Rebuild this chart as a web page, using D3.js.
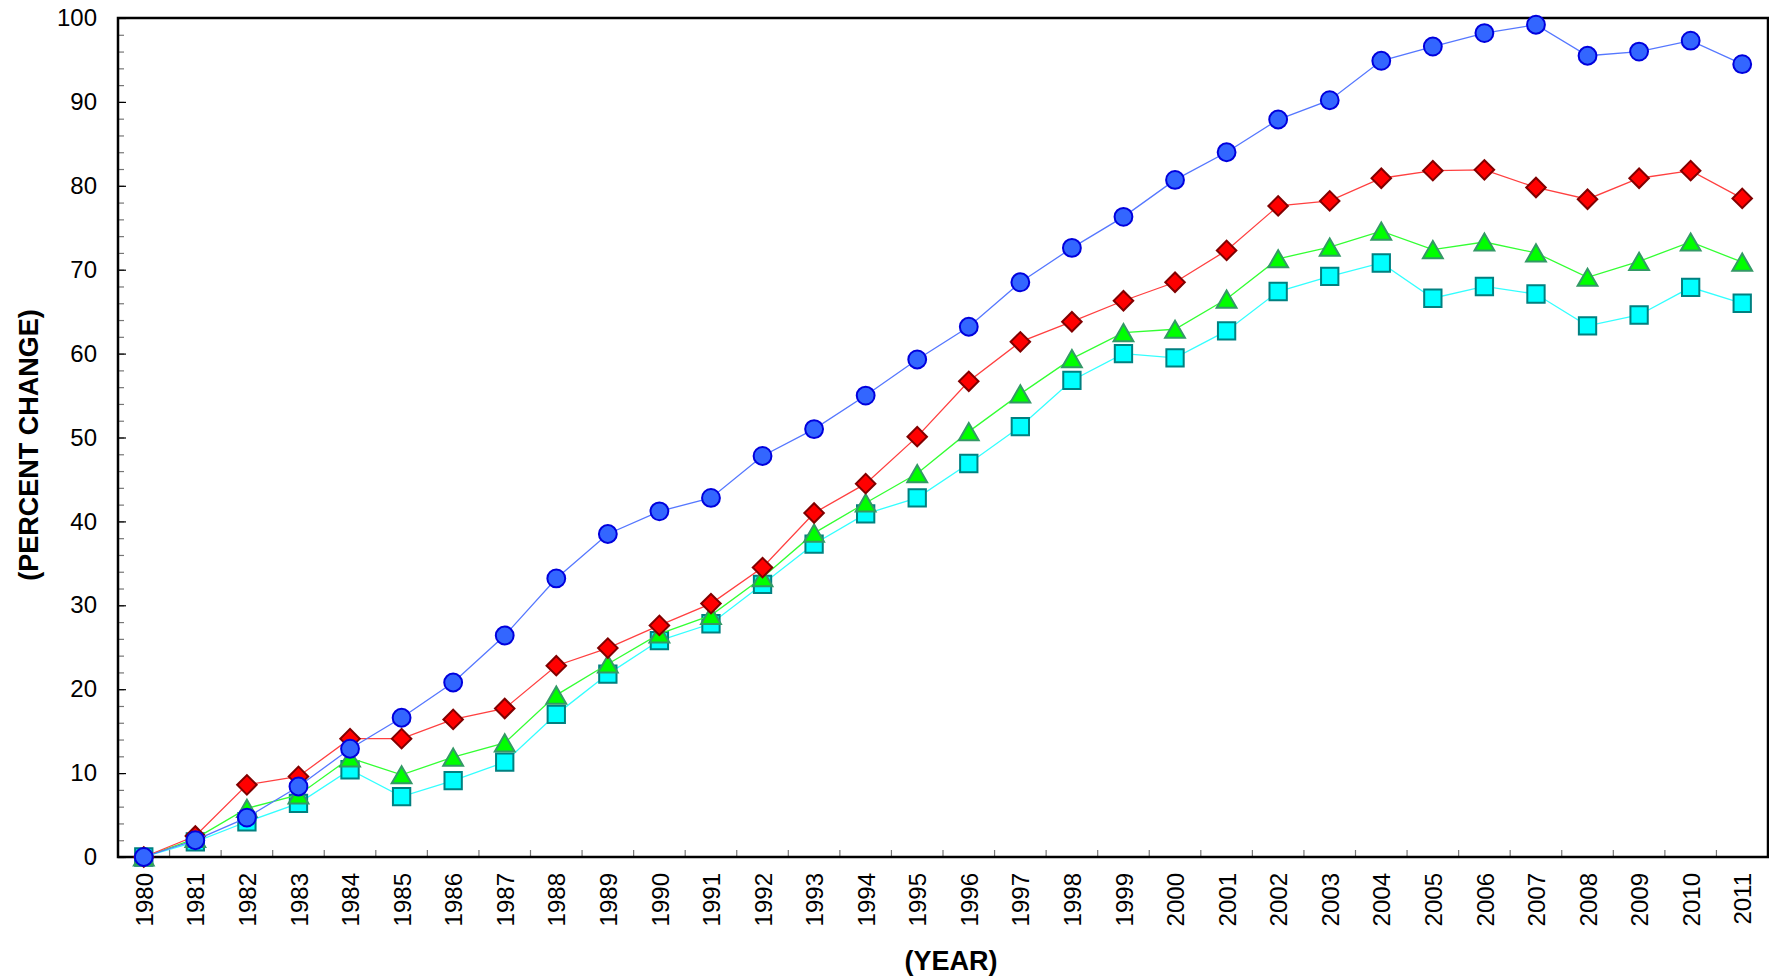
<!DOCTYPE html>
<html>
<head>
<meta charset="utf-8">
<script src="https://cdn.jsdelivr.net/npm/d3@7"></script>
<style>
    body { margin: 0; background: #fff; }
    svg text { font-family: "Liberation Sans", Arial, sans-serif; fill: #000; }
    .tick-label { font-size: 24px; }
    .axis-title { font-size: 27px; font-weight: bold; }
</style>
</head>
<body>
<div id="chart"></div>
<script>
// values (percent change since 1980)
var years = d3.range(1980, 2012).map(String);

var series_circle = [0, 2.0, 4.7, 8.4, 12.9, 16.6, 20.8, 26.4, 33.2, 38.5,
    41.2, 42.8, 47.8, 51.0, 55.0, 59.3, 63.2, 68.5, 72.6, 76.3,
    80.7, 84.0, 87.9, 90.2, 94.9, 96.6, 98.2, 99.2, 95.5, 96.0, 97.3, 94.5];

var series_diamond = [0, 2.5, 8.6, 9.6, 14.1, 14.1, 16.4, 17.7, 22.8, 24.9,
    27.6, 30.2, 34.5, 41.0, 44.5, 50.1, 56.7, 61.4, 63.8, 66.3,
    68.5, 72.3, 77.6, 78.2, 80.9, 81.8, 81.9, 79.8, 78.4, 80.9, 81.8, 78.5];

var series_triangle = [0, 2.2, 5.8, 7.4, 11.8, 9.8, 11.9, 13.6, 19.3, 23.0,
    26.6, 28.8, 33.3, 38.6, 42.2, 45.7, 50.7, 55.2, 59.4, 62.5,
    62.9, 66.5, 71.3, 72.7, 74.6, 72.4, 73.3, 72.0, 69.1, 71.0, 73.3, 70.9];

var series_square = [0, 1.8, 4.2, 6.4, 10.4, 7.2, 9.1, 11.3, 17.0, 21.8,
    25.8, 27.8, 32.5, 37.3, 40.9, 42.8, 46.9, 51.3, 56.8, 60.0,
    59.5, 62.7, 67.4, 69.2, 70.8, 66.6, 68.0, 67.1, 63.3, 64.6, 67.9, 66.0];

var y_ticks = d3.range(0, 101, 10);

var width = 1769,
    height = 980,
    plot = { left: 118, right: 1768, top: 18, bottom: 857 };

var svg = d3.select("#chart").append("svg")
    .attr("width", width)
    .attr("height", height);

var x = d3.scalePoint()
    .domain(years)
    .range([plot.left, plot.right])
    .padding(0.5);

var x_band = d3.scaleBand()
    .domain(years)
    .range([plot.left, plot.right]);

var y = d3.scaleLinear()
    .domain([0, 100])
    .range([plot.bottom, plot.top]);

// minor y ticks (every 2)
svg.append("g")
    .attr("transform", "translate(" + plot.left + ",0)")
    .call(d3.axisLeft(y).tickValues(d3.range(0, 100, 2)).tickSize(-6).tickFormat(""))
    .call(function(g) {
        g.select(".domain").remove();
        g.selectAll("line").attr("stroke", "#777").attr("stroke-width", 1.2);
    });

// major y ticks and labels
svg.append("g")
    .attr("transform", "translate(" + plot.left + ",0)")
    .call(d3.axisLeft(y).tickValues(y_ticks).tickSize(-8).tickPadding(21))
    .call(function(g) {
        g.select(".domain").remove();
        g.selectAll("line").attr("stroke", "#000").attr("stroke-width", 1.2);
        g.selectAll("text").attr("class", "tick-label").attr("font-size", null)
            .attr("font-family", null);
    });

// x ticks sit between the years
svg.append("g")
    .attr("transform", "translate(0," + plot.bottom + ")")
    .call(d3.axisBottom(x_band).tickValues(years.slice(1)).tickSize(-7).tickFormat("")
        .offset(0))
    .call(function(g) {
        g.select(".domain").remove();
        g.selectAll(".tick").attr("transform", function(d) {
            return "translate(" + x_band(d) + ",0)";
        });
        g.selectAll("line").attr("stroke", "#777").attr("stroke-width", 1.2);
    });

// x labels, rotated
svg.append("g")
    .attr("transform", "translate(0," + plot.bottom + ")")
    .call(d3.axisBottom(x).tickSize(0).tickPadding(0))
    .call(function(g) {
        g.select(".domain").remove();
        g.selectAll("text")
            .attr("class", "tick-label")
            .attr("font-size", null)
            .attr("font-family", null)
            .attr("text-anchor", "end")
            .attr("transform", "rotate(-90)")
            .attr("x", -16)
            .attr("y", 0)
            .attr("dy", "0.36em");
    });

// frame
svg.append("rect")
    .attr("x", plot.left)
    .attr("y", plot.top)
    .attr("width", plot.right - plot.left)
    .attr("height", plot.bottom - plot.top)
    .attr("fill", "none")
    .attr("stroke", "#000")
    .attr("stroke-width", 2.5);

// axis titles
svg.append("text")
    .attr("class", "axis-title")
    .attr("x", 951)
    .attr("y", 970)
    .attr("text-anchor", "middle")
    .text("(YEAR)");

svg.append("text")
    .attr("class", "axis-title")
    .attr("transform", "translate(38,445) rotate(-90)")
    .attr("text-anchor", "middle")
    .text("(PERCENT CHANGE)");

// triangle centred on its box, like the spreadsheet marker
var box_triangle = {
    draw: function(context, size) {
        var s = Math.sqrt(size * 4 / Math.sqrt(3)),
            h = s * Math.sqrt(3) / 2;
        context.moveTo(0, -h / 2);
        context.lineTo(s / 2, h / 2);
        context.lineTo(-s / 2, h / 2);
        context.closePath();
    }
};

var all_series = [
    { values: series_square, line: "#33FFFF", fill: "#00FFFF", stroke: "#008080",
      type: d3.symbolSquare, size: 300, rotate: 0 },
    { values: series_triangle, line: "#33FF33", fill: "#00FF00", stroke: "#339966",
      type: box_triangle, size: 170, rotate: 0 },
    { values: series_diamond, line: "#FF4040", fill: "#FF0000", stroke: "#800000",
      type: d3.symbolSquare, size: 190, rotate: 45 },
    { values: series_circle, line: "#5577FF", fill: "#3366FF", stroke: "#0000DD",
      type: d3.symbolCircle, size: 250, rotate: 0 }
];

var line = d3.line()
    .x(function(d, i) { return x(years[i]); })
    .y(function(d) { return y(d); });

all_series.forEach(function(s) {
    var g = svg.append("g");
    g.append("path")
        .attr("d", line(s.values))
        .attr("fill", "none")
        .attr("stroke", s.line)
        .attr("stroke-width", 1.3);

    g.selectAll("path.marker")
        .data(s.values)
        .enter().append("path")
        .attr("class", "marker")
        .attr("d", d3.symbol().type(s.type).size(s.size))
        .attr("transform", function(d, i) {
            return "translate(" + x(years[i]) + "," + y(d) + ") rotate(" + s.rotate + ")";
        })
        .attr("fill", s.fill)
        .attr("stroke", s.stroke)
        .attr("stroke-width", 2);
});
</script>
</body>
</html>
